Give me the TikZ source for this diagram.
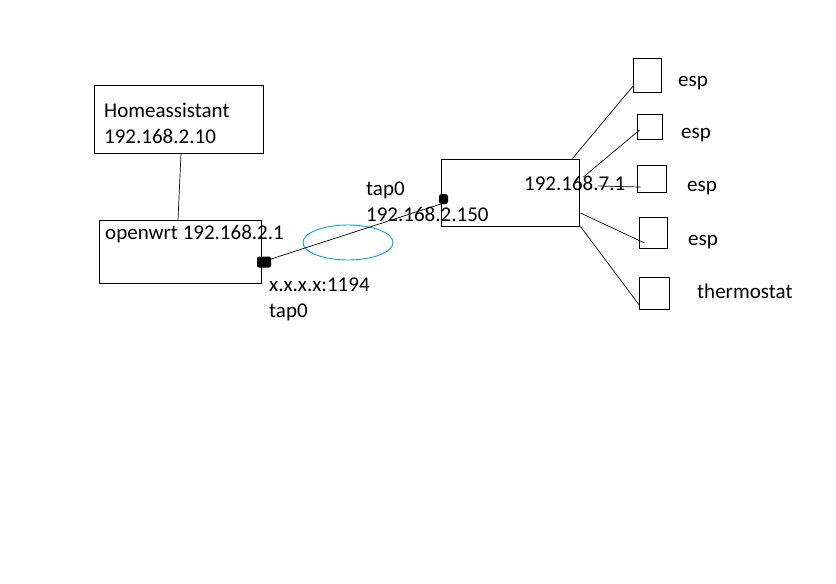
\documentclass[tikz,border=0pt]{standalone}
\usepackage{fontspec}
\setmainfont{Carlito}
\usetikzlibrary{shapes.geometric}
\begin{document}
\begin{tikzpicture}[x=1pt,y=-1pt,
  box/.style={draw=black,line width=0.9pt,inner sep=0pt,minimum width=#1},
  lbl/.style={anchor=base west,inner sep=0pt,font=\fontsize{21}{25}\selectfont},
  wire/.style={draw=black,line width=0.7pt},
  blob/.style={fill=black,rounded corners=2.5pt,inner sep=0pt}]
\useasboundingbox[fill=white] (0,0) rectangle (836,584);
% boxes
\node[box=169pt,minimum height=68pt] (ha) at (178.5,119) {};
\node[box=162pt,minimum height=63pt] (ow) at (180,251.5) {};
\node[box=138pt,minimum height=67pt] (rt) at (510,192.5) {};
\node[box=28pt,minimum height=34pt] (e1) at (647,75) {};
\node[box=25pt,minimum height=25pt] (e2) at (649.5,126.5) {};
\node[box=29pt,minimum height=27pt] (e3) at (651.5,178.5) {};
\node[box=28pt,minimum height=31pt] (e4) at (653,232.5) {};
\node[box=30pt,minimum height=32pt] (e5) at (654,293) {};
% texts
\node[lbl] (t1) at (104,117) {Homeassistant};
\node[lbl] (t2) at (104,143) {192.168.2.10};
\node[lbl] (t3) at (105,239) {openwrt 192.168.2.1};
\node[lbl] (t4) at (366,195) {tap0};
\node[lbl] (t5) at (366,221) {192.168.2.150};
\node[lbl] (t6) at (524,190) {192.168.7.1};
\node[lbl] (t7) at (269,291) {x.x.x.x:1194};
\node[lbl] (t8) at (269,317) {tap0};
\node[lbl] (l1) at (678,86) {esp};
\node[lbl] (l2) at (681,138.5) {esp};
\node[lbl] (l3) at (687,191.5) {esp};
\node[lbl] (l4) at (688,245) {esp};
\node[lbl] (l5) at (697,298) {thermostat};
% ellipse
\node[draw={rgb,255:red,0;green,162;blue,232},line width=0.9pt,ellipse,minimum width=90pt,minimum height=35pt,inner sep=0pt] (ell) at (348,242.5) {};
% blobs
\node[blob,minimum width=9pt,minimum height=10pt] (b1) at (443.5,199) {};
\node[blob,minimum width=14pt,minimum height=11pt,rounded corners=2pt] (b2) at (264,262) {};
\coordinate (p1) at (447,202);
\coordinate (p2) at (268,260);
\draw[wire] (p1) -- (p2);
% connectors
\draw[wire] ([xshift=2.5pt]ha.south) -- ([xshift=-2pt]ow.north);
\draw[wire] ([xshift=-7pt]rt.north east) -- ([xshift=1pt,yshift=7pt]e1.south west);
\draw[wire] ([xshift=4pt,yshift=15.5pt]rt.east) -- ([xshift=3pt,yshift=-3.5pt]e2.west);
\draw[wire] ([xshift=19pt,yshift=6.5pt]rt.east) -- ([xshift=4pt,yshift=-8.5pt]e3.west);
\draw[wire] ([xshift=1pt,yshift=-20.5pt]rt.east) -- ([xshift=6pt,yshift=-10.5pt]e4.west);
\draw[wire] ([xshift=1pt]rt.south east) -- ([xshift=1pt,yshift=4pt]e5.south west);
\end{tikzpicture}
\end{document}
